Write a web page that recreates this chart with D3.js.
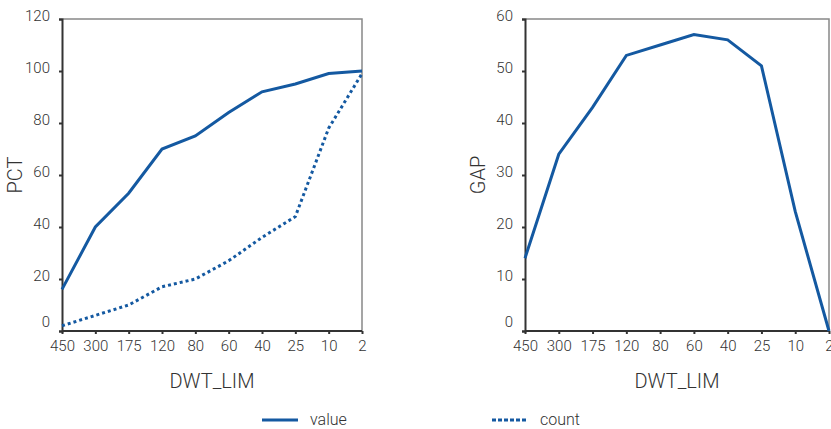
<!DOCTYPE html>
<html><head><meta charset="utf-8">
<script src="https://cdn.jsdelivr.net/npm/d3@7"></script>
<style>
body{margin:0;background:#fff;}
text{font-family:Roboto,"Open Sans",sans-serif;font-weight:300;fill:#333;}
</style></head>
<body>
<svg id="c" width="831" height="429"></svg>
<script>
const categories = ["450","300","175","120","80","60","40","25","10","2"];
const valueSeries = [16, 40, 53, 70, 75, 84, 92, 95, 99, 100];
const countSeries = [2, 6, 10, 17, 20, 27, 36, 44, 78, 99];
const gapSeries = [14, 34, 43, 53, 55, 57, 56, 51, 23, 0];
const pctTicks = [0, 20, 40, 60, 80, 100, 120];
const gapTicks = [0, 10, 20, 30, 40, 50, 60];

const color = "#1459a1";
const svg = d3.select("#c");

function panel(x0, x1, yMax, ticks, yTitle, series) {
  const top = 19, bottom = 331;
  const x = d3.scalePoint().domain(categories).range([x0, x1]);
  const y = d3.scaleLinear().domain([0, yMax]).range([bottom, top]);
  const g = svg.append("g");
  // frame (top/right)
  g.append("path").attr("d", `M${x0},${top}H${x1}V${bottom}`)
    .attr("fill", "none").attr("stroke", "#888").attr("stroke-width", 1.5);
  // y axis
  const ya = g.append("g").attr("transform", `translate(${x0},0)`)
    .call(d3.axisLeft(y).tickValues(ticks).tickSize(3).tickPadding(9));
  ya.select(".domain").attr("stroke", "#333").attr("stroke-width", 2);
  ya.selectAll(".tick line").attr("stroke", "#333").attr("stroke-width", 2);
  ya.selectAll(".tick text").attr("font-size", 15).attr("fill", "#333")
    .attr("dy", d => d === 0 ? "-0.3em" : "0.12em");
  // x axis
  const xa = g.append("g").attr("transform", `translate(0,${bottom})`)
    .call(d3.axisBottom(x).tickSize(3).tickPadding(6));
  xa.select(".domain").attr("stroke", "#333").attr("stroke-width", 2)
    .attr("d", `M${x0},0H${x1}`);
  xa.selectAll(".tick line").attr("stroke", "#333").attr("stroke-width", 2);
  xa.selectAll(".tick text").attr("font-size", 15).attr("fill", "#333");
  // titles
  g.append("text").attr("transform", `translate(${x0 - 40},${(top + bottom) / 2}) rotate(-90)`)
    .attr("text-anchor", "middle").attr("font-size", 20).text(yTitle);
  g.append("text").attr("x", (x0 + x1) / 2).attr("y", 388)
    .attr("text-anchor", "middle").attr("font-size", 20).text("DWT_LIM");
  const line = d3.line().x((d, i) => x(categories[i])).y(d => y(d));
  series.forEach(s => {
    g.append("path").datum(s.data).attr("d", line).attr("fill", "none")
      .attr("stroke", color).attr("stroke-width", 3)
      .attr("stroke-dasharray", s.dash || null);
  });
}

panel(62, 362, 120, pctTicks, "PCT", [
  {data: valueSeries},
  {data: countSeries, dash: "3,3"}
]);
panel(525, 829, 60, gapTicks, "GAP", [
  {data: gapSeries}
]);

// legend
const leg = svg.append("g");
const items = [{label: "value", x: 262, dash: null}, {label: "count", x: 492, dash: "4,2"}];
items.forEach(it => {
  leg.append("line").attr("x1", it.x).attr("x2", it.x + 36).attr("y1", 420).attr("y2", 420)
    .attr("stroke", color).attr("stroke-width", 3).attr("stroke-dasharray", it.dash);
  leg.append("text").attr("x", it.x + 48).attr("y", 425).attr("font-size", 16).text(it.label);
});
</script>
</body></html>
